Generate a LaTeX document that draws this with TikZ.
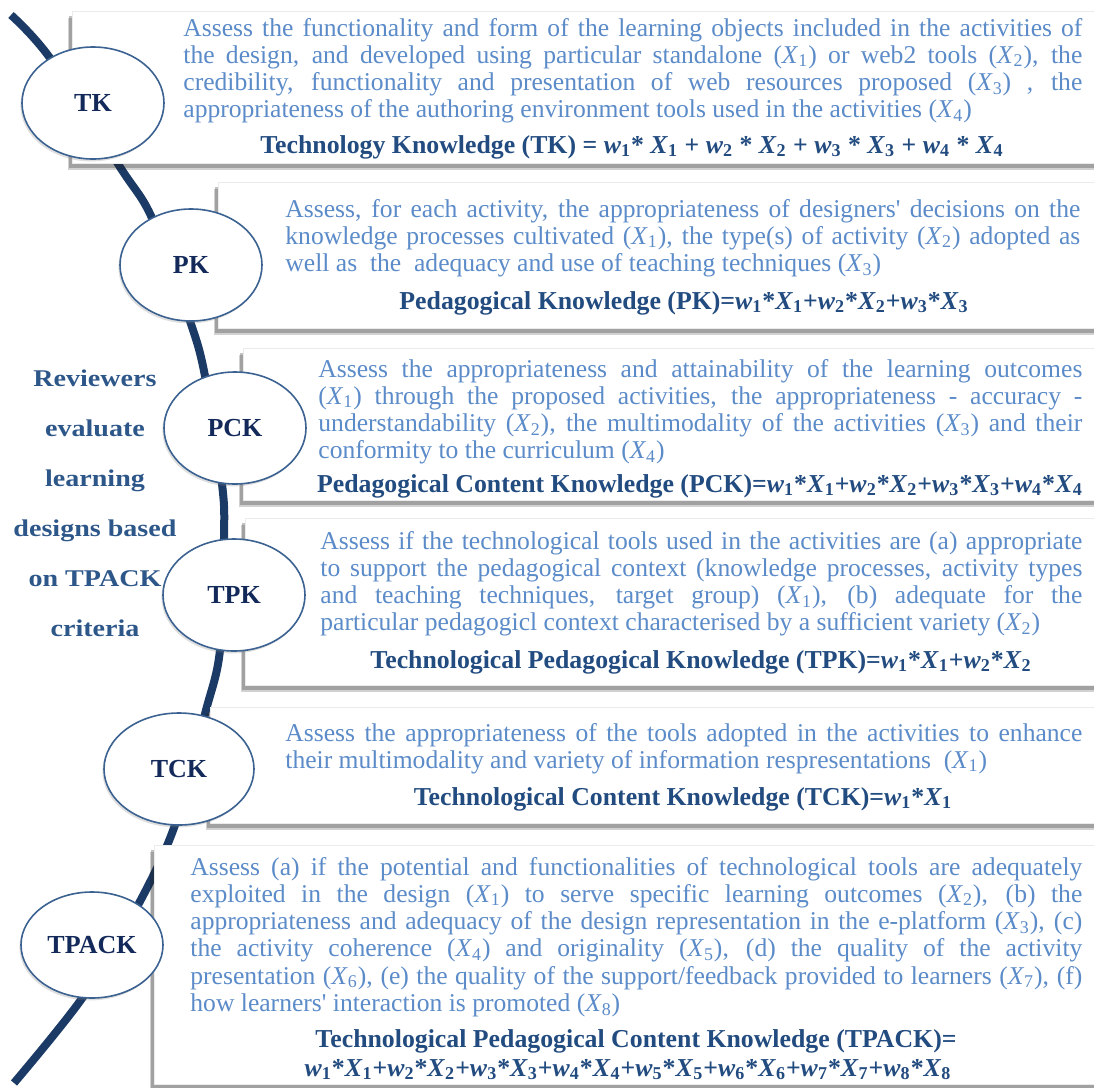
\documentclass[tikz,border=0pt]{standalone}
\usepackage{fontspec}
\setmainfont{Liberation Serif}
\newfontfamily\widefont[FakeStretch=1.17]{Liberation Serif}
\usetikzlibrary{shapes.geometric, shadows}
\definecolor{spinenavy}{HTML}{1C3A66}
\definecolor{ringblue}{HTML}{3B6291}
\definecolor{stagenavy}{HTML}{12295A}
\definecolor{descblue}{HTML}{5B8BC8}
\definecolor{formblue}{HTML}{224B80}
\definecolor{sideblue}{HTML}{2D5789}

\newcommand{\xs}[1]{\textit{X}\textsubscript{#1}}
\newcommand{\ws}[1]{\textit{w}\textsubscript{#1}}

\begin{document}
\begin{tikzpicture}[
  x=0.5pt, y=-0.5pt,
  line join=round,
  card/.style    = {draw=black!8, line width=0.4pt, fill=white, anchor=north west,
                    inner sep=0pt,
                    general shadow={shadow xshift=-2.4pt, shadow yshift=-3.2pt,
                                    opacity=0.18, fill=black},
                    general shadow={shadow xshift=-1.5pt, shadow yshift=-2.2pt,
                                    opacity=0.3, fill=black!80}},
  stage/.style   = {ellipse, draw=ringblue, line width=0.8pt, fill=white,
                    minimum width=71pt, minimum height=56pt, inner sep=0pt,
                    font=\fontsize{13}{15}\selectfont\bfseries, text=stagenavy,
                    drop shadow={shadow xshift=-0.8pt, shadow yshift=-1.2pt,
                                 opacity=0.25, fill=black!50}},
  desc/.style    = {anchor=base west, inner sep=0pt, align=justify, text=descblue,
                    font=\fontsize{12.8}{13.65}\selectfont,
                    execute at begin node={\tolerance=10000 \hfuzz=20pt }},
  formula/.style = {anchor=base, inner sep=0pt, text=formblue,
                    font=\fontsize{12.9}{14.8}\selectfont\bfseries},
  spine/.style   = {draw=spinenavy, line width=4pt},
  sidenote/.style= {align=center, inner sep=0pt, text=sideblue,
                    font=\widefont\bfseries\fontsize{12}{25}\selectfont}
]
\useasboundingbox (0,0) rectangle (1094,1088);

% the curved spine behind everything
\draw[spine] plot[smooth, tension=0.55] coordinates {(11,15) (50,58) (120,167)
  (152,218) (190,321) (205,376) (222,484) (224,538) (220,650) (205,714)
  (175,825) (137,907) (83,997) (14,1083)};

% cards
\node[card, minimum width=514pt, minimum height=76pt]   (tkbox)    at (72,11)  {};
\node[card, minimum width=441pt, minimum height=73pt]   (pkbox)    at (218,182) {};
\node[card, minimum width=428.5pt, minimum height=76pt] (pckbox)   at (243,348) {};
\node[card, minimum width=427.5pt, minimum height=83.5pt] (tpkbox) at (245,518) {};
\node[card, minimum width=445pt, minimum height=58pt]   (tckbox)   at (210,707) {};
\node[card, minimum width=473pt, minimum height=119.5pt] (tpackbox) at (154,845) {};

% TK
\node[desc, text width=449.5pt] (tkdesc) at (183,36) {%
  Assess the functionality and form of the learning objects included in the activities of\linebreak
  the design, and developed using particular standalone (\xs{1}) or web2 tools (\xs{2}), the\linebreak
  credibility, functionality and presentation of web resources proposed (\xs{3}) , the\linebreak
  appropriateness of the authoring environment tools used in the activities (\xs{4})};
\node[formula] (tkform) at (632,153)
  {Technology Knowledge (TK) = \ws{1}* \xs{1} + \ws{2} * \xs{2} + \ws{3} * \xs{3} + \ws{4} * \xs{4}};

% PK
\node[desc, text width=397.5pt] (pkdesc) at (285,217) {%
  Assess, for each activity, the appropriateness of designers\textquotesingle\ decisions on the\linebreak
  knowledge processes cultivated (\xs{1}), the type(s) of activity (\xs{2}) adopted as\linebreak
  well as~ the~ adequacy and use of teaching techniques (\xs{3})};
\node[formula] (pkform) at (684,309)
  {Pedagogical Knowledge (PK)=\ws{1}*\xs{1}+\ws{2}*\xs{2}+\ws{3}*\xs{3}};

% PCK
\node[desc, text width=382pt] (pckdesc) at (318,377) {%
  Assess the appropriateness and attainability of the learning outcomes\linebreak
  (\xs{1}) through the proposed activities, the appropriateness - accuracy -\linebreak
  understandability (\xs{2}), the multimodality of the activities (\xs{3}) and their\linebreak
  conformity to the curriculum (\xs{4})};
\node[formula] (pckform) at (700,492)
  {Pedagogical Content Knowledge (PCK)=\ws{1}*\xs{1}+\ws{2}*\xs{2}+\ws{3}*\xs{3}+\ws{4}*\xs{4}};

% TPK
\node[desc, text width=381pt] (tpkdesc) at (320,549) {%
  Assess if the technological tools used in the activities are (a) appropriate\linebreak
  to support the pedagogical context (knowledge processes, activity types\linebreak
  and teaching techniques, target group) (\xs{1}), (b) adequate for the\linebreak
  particular pedagogicl context characterised by a sufficient variety (\xs{2})};
\node[formula] (tpkform) at (701,668)
  {Technological Pedagogical Knowledge (TPK)=\ws{1}*\xs{1}+\ws{2}*\xs{2}};

% TCK
\node[desc, text width=398.5pt] (tckdesc) at (285,741) {%
  Assess the appropriateness of the tools adopted in the activities to enhance\linebreak
  their multimodality and variety of information respresentations~ (\xs{1})};
\node[formula] (tckform) at (683,805)
  {Technological Content Knowledge (TCK)=\ws{1}*\xs{1}};

% TPACK
\node[desc, text width=446pt] (tpackdesc) at (190,875) {%
  Assess (a) if the potential and functionalities of technological tools are adequately\linebreak
  exploited in the design (\xs{1}) to serve specific learning outcomes (\xs{2}), (b) the\linebreak
  appropriateness and adequacy of the design representation in the e-platform (\xs{3}), (c)\linebreak
  the activity coherence (\xs{4}) and originality (\xs{5}), (d) the quality of the activity\linebreak
  presentation (\xs{6}), (e) the quality of the support/feedback provided to learners (\xs{7}), (f)\linebreak
  how learners\textquotesingle\ interaction is promoted (\xs{8})};
\node[formula] (tpackform) at (636,1047)
  {Technological Pedagogical Content Knowledge (TPACK)=};
\node[formula] (tpacksum) at (628,1076)
  {\ws{1}*\xs{1}+\ws{2}*\xs{2}+\ws{3}*\xs{3}+\ws{4}*\xs{4}+\ws{5}*\xs{5}+\ws{6}*\xs{6}+\ws{7}*\xs{7}+\ws{8}*\xs{8}};

% stages on the spine
\node[stage] (tk)    at (93,103)  {TK};
\node[stage] (pk)    at (191,265) {PK};
\node[stage] (pck)   at (235,428) {PCK};
\node[stage] (tpk)   at (234,595) {TPK};
\node[stage, minimum width=75pt] (tck) at (179,769) {TCK};
\node[stage, minimum height=53pt] (tpack) at (92,945) {TPACK};

% side note
\node[sidenote] (review) at (95,503)
  {Reviewers\\evaluate\\learning\\designs based\\on TPACK\\criteria};

\end{tikzpicture}
\end{document}
